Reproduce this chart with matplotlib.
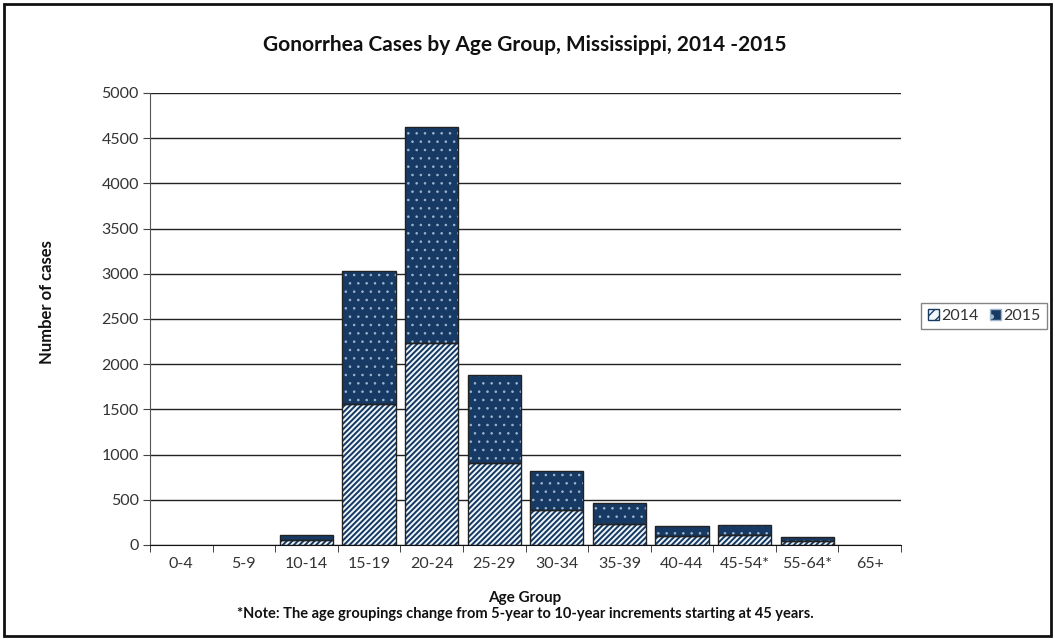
import matplotlib
matplotlib.use("Agg")
import matplotlib.pyplot as plt
from matplotlib.patches import Rectangle, Patch
import numpy as np

age_groups = ["0-4", "5-9", "10-14", "15-19", "20-24", "25-29", "30-34",
              "35-39", "40-44", "45-54*", "55-64*", "65+"]
cases_2014 = [0, 0, 60, 1565, 2240, 902, 392, 235, 102, 110, 48, 0]
cases_2015 = [0, 0, 50, 1468, 2382, 978, 428, 225, 103, 116, 42, 0]
y_ticks = [0, 500, 1000, 1500, 2000, 2500, 3000, 3500, 4000, 4500, 5000]

NAVY = "#173a64"
STRIPE_BG = "#f2f9fc"
DOT = "#9fb6d0"
TEXT = "#333333"

plt.rcParams["font.family"] = ["Lato", "DejaVu Sans"]

fig = plt.figure(figsize=(10.55, 6.39), dpi=100)
ax = fig.add_axes([150 / 1055, 1 - 545 / 639, 751 / 1055, 452 / 639])

x = np.arange(len(age_groups))
w = 0.85
b14 = np.array(cases_2014)
b15 = np.array(cases_2015)
has = (b14 + b15) > 0
xs = x[has]

# 2014: navy diagonal stripes on a pale background
with plt.rc_context({"hatch.linewidth": 1.45}):
    ax.bar(xs, b14[has], w, color=STRIPE_BG, edgecolor=NAVY, hatch="//////",
           linewidth=0, zorder=3)
ax.bar(xs, b14[has], w, fill=False, edgecolor="#222222", linewidth=1.0, zorder=4)
# 2015: dotted navy stacked on top
with plt.rc_context({"hatch.linewidth": 0.6}):
    ax.bar(xs, b15[has], w, bottom=b14[has], color=NAVY, edgecolor=DOT, hatch="..",
           linewidth=0, zorder=3)
ax.bar(xs, b15[has], w, bottom=b14[has], fill=False, edgecolor="#222222",
       linewidth=1.0, zorder=4)

ax.set_xlim(-0.5, len(age_groups) - 0.5)
ax.set_ylim(0, 5000)
ax.set_yticks(y_ticks)
ax.set_yticklabels([str(v) for v in y_ticks])
ax.yaxis.grid(True, color="#222222", linewidth=1.0, zorder=1)
ax.set_axisbelow(True)

ax.set_xticks(x)
ax.set_xticklabels(age_groups)
ax.set_xticks(np.arange(-0.5, len(age_groups)), minor=True)
ax.tick_params(axis="x", which="major", length=0, pad=9, labelsize=11.5, labelcolor=TEXT)
ax.tick_params(axis="x", which="minor", length=5, direction="out", color="#222222")
ax.tick_params(axis="y", length=5, direction="out", color="#444444", labelsize=11.5,
               labelcolor=TEXT, pad=3)

for s in ("top", "right"):
    ax.spines[s].set_visible(False)
ax.spines["left"].set_color("#555555")
ax.spines["bottom"].set_color("#111111")
ax.spines["bottom"].set_zorder(5)

fig.text(525 / 1055, 1 - 45 / 639, "Gonorrhea Cases by Age Group, Mississippi, 2014 -2015",
         ha="center", va="center", fontsize=15, fontweight="bold", color="#111111")
fig.text(47 / 1055, 1 - 302 / 639, "Number of cases", rotation=90, ha="center",
         va="center", fontsize=12, fontweight="bold", color="#111111")
fig.text(525 / 1055, 1 - 598 / 639, "Age Group", ha="center", va="center",
         fontsize=11, fontweight="bold", color="#111111")
fig.text(525 / 1055, 1 - 614 / 639,
         "*Note: The age groupings change from 5-year to 10-year increments starting at 45 years.",
         ha="center", va="center", fontsize=10.5, fontweight="bold", color="#111111")

with plt.rc_context({"hatch.linewidth": 1.2}):
    h14 = Patch(facecolor=STRIPE_BG, edgecolor=NAVY, hatch="///", label="2014")
with plt.rc_context({"hatch.linewidth": 0.6}):
    h15 = Patch(facecolor=NAVY, edgecolor=DOT, hatch=".", label="2015")
leg = fig.legend(handles=[h14, h15], loc="center", bbox_to_anchor=(984 / 1055, 1 - 316 / 639),
                 ncol=2, frameon=True, fancybox=False, fontsize=11.5, handlelength=0.7,
                 handleheight=0.7, handletextpad=0.15, columnspacing=0.7, borderpad=0.4)
leg.get_frame().set_edgecolor("#666666")
leg.get_frame().set_linewidth(1.0)
for t in leg.get_texts():
    t.set_color(TEXT)

# outer frame around the whole chart
fig.patches.append(Rectangle((4 / 1055, 3 / 639), 1047 / 1055, 632 / 639,
                             transform=fig.transFigure, fill=False,
                             edgecolor="#111111", linewidth=2.0))

fig.savefig("out.png", dpi=100)
